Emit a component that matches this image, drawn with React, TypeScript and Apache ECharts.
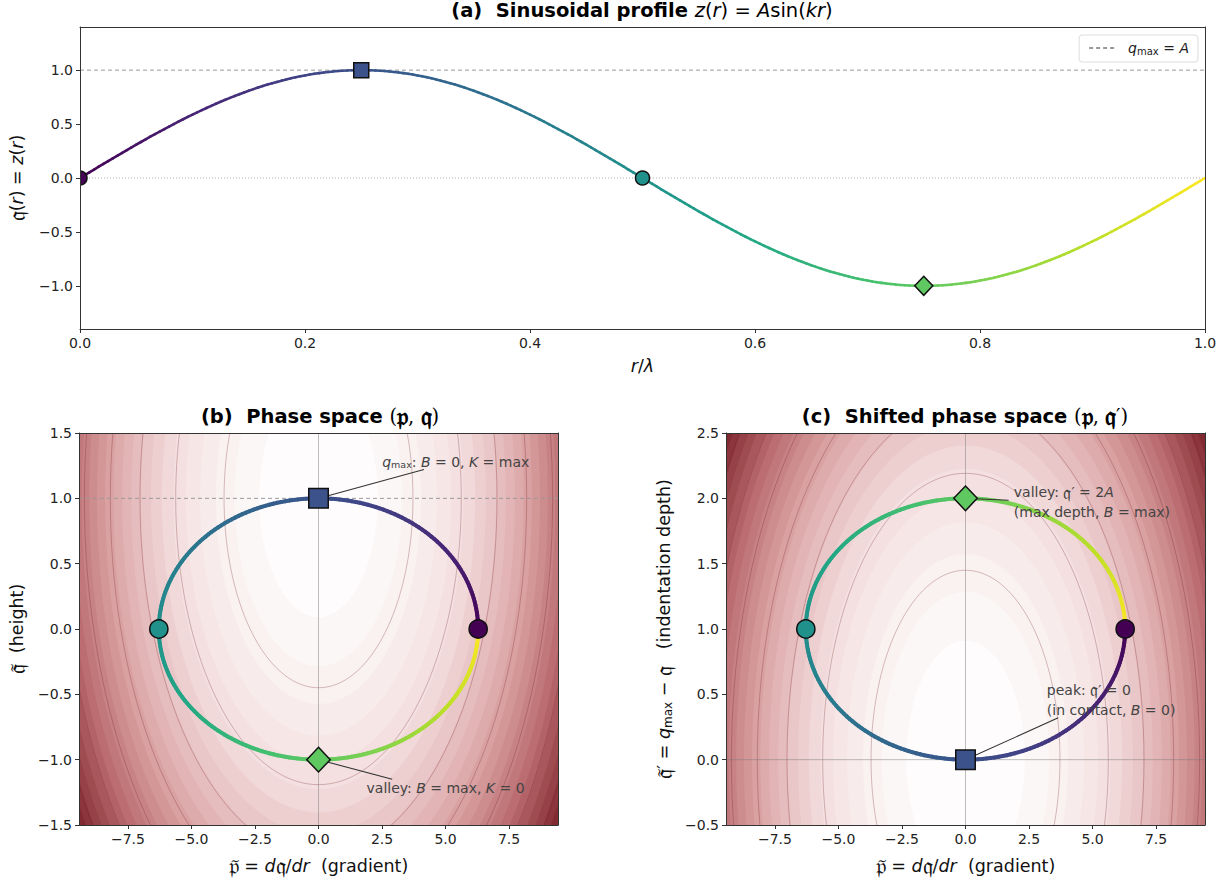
import React, { useEffect, useRef } from "react";
import * as echarts from "echarts";

// ---------- data / parameters ----------
const AMPLITUDE = 1; // A
const WAVELENGTH = 1; // lambda
const CURVE_SAMPLES = 240;
const markerR = [0, 0.25, 0.5, 0.75];
const markerSymbols = ["circle", "rect", "circle", "diamond"];
const rTicks = [0, 0.2, 0.4, 0.6, 0.8, 1.0];
const qTicksA = [-1, -0.5, 0, 0.5, 1];
const pTicks = [-7.5, -5, -2.5, 0, 2.5, 5, 7.5];
const qTicksB = [-1.5, -1, -0.5, 0, 0.5, 1, 1.5];
const qTicksC = [-0.5, 0, 0.5, 1, 1.5, 2, 2.5];
// background field f(p, q') = (p/(A k))^2 + (q'/FIELD_S)^2
const FIELD_S = 2.45;
const FILL_LEVEL_COUNT = 24;
const FILL_MAX = 3.3;
const contourLevels = [0.35, 0.8, 1.25, 1.7, 2.15, 2.6, 3.05];

const viridisStops = ["#440154", "#482475", "#414487", "#355f8d", "#2a788e", "#21918c", "#22a884", "#44bf70", "#7ad151", "#bddf26", "#fde725"];
const fieldStops: [number, number[]][] = [
  [0, [255, 255, 255]],
  [0.25, [243, 221, 221]],
  [0.5, [220, 166, 167]],
  [0.75, [184, 104, 108]],
  [1, [125, 36, 44]],
];

const K = (2 * Math.PI) / WAVELENGTH;
const P_MAX = AMPLITUDE * K;
const X_LIM = 1.5 * P_MAX;

function hexToRgb(h: string) {
  const n = parseInt(h.slice(1), 16);
  return [(n >> 16) & 255, (n >> 8) & 255, n & 255];
}
function viridis(t: number) {
  t = Math.max(0, Math.min(1, t));
  const s = t * (viridisStops.length - 1);
  const i = Math.min(Math.floor(s), viridisStops.length - 2);
  const f = s - i;
  const a = hexToRgb(viridisStops[i]);
  const b = hexToRgb(viridisStops[i + 1]);
  return `rgb(${a.map((v, j) => Math.round(v + (b[j] - v) * f)).join(",")})`;
}
function fieldColor(t: number) {
  t = Math.max(0, Math.min(1, t));
  for (let i = 0; i < fieldStops.length - 1; i++) {
    const [t0, c0] = fieldStops[i];
    const [t1, c1] = fieldStops[i + 1];
    if (t <= t1) {
      const f = (t - t0) / (t1 - t0);
      return `rgb(${c0.map((v, j) => Math.round(v + (c1[j] - v) * f)).join(",")})`;
    }
  }
  return "rgb(125,36,44)";
}

const rs = Array.from({ length: CURVE_SAMPLES + 1 }, (_, i) => (i / CURVE_SAMPLES) * WAVELENGTH);
const zOf = (r: number) => AMPLITUDE * Math.sin(K * r);
const pOf = (r: number) => AMPLITUDE * K * Math.cos(K * r);

function segments(fx: (r: number) => number, fy: (r: number) => number) {
  const out: number[][] = [];
  for (let i = 0; i < rs.length - 1; i++) {
    const a = rs[i], b = rs[i + 1];
    out.push([fx(a), fy(a), fx(b), fy(b), (a + b) / 2 / WAVELENGTH]);
  }
  return out;
}
const segA = segments((r) => r, zOf);
const segB = segments(pOf, zOf);
const segC = segments(pOf, (r) => AMPLITUDE - zOf(r));

const fmt = (v: number) => v.toFixed(1).replace("-", "\u2212");

const FONT = "DejaVu Sans";
const FRAK = "DejaVu Serif";
const TS = 19.5; // title size
const rich = {
  b: { fontWeight: "bold", fontSize: TS, fontFamily: FONT, color: "#111" },
  ti: { fontStyle: "italic", fontFamily: FONT, fontSize: TS, color: "#111" },
  tn: { fontFamily: FONT, fontSize: TS, color: "#111" },
  tp: { fontFamily: FRAK, fontSize: TS, color: "#111" },
  tf: { fontFamily: FRAK, fontSize: TS * 1.3, color: "#111", fontWeight: "bold" },
};

function curveSeries(seg: number[][], xi: number, width: number) {
  return {
    type: "custom",
    xAxisIndex: xi,
    yAxisIndex: xi,
    z: 4,
    clip: true,
    data: seg,
    encode: { x: [0, 2], y: [1, 3] },
    renderItem: (params: any, api: any) => {
      const p1 = api.coord([api.value(0), api.value(1)]);
      const p2 = api.coord([api.value(2), api.value(3)]);
      return {
        type: "line",
        shape: { x1: p1[0], y1: p1[1], x2: p2[0], y2: p2[1] },
        style: { stroke: viridis(api.value(4)), lineWidth: width, lineCap: "round" },
      };
    },
  };
}

// markers drawn as a custom series so that they are clipped at the axes edge
function markerSeries(fx: (r: number) => number, fy: (r: number) => number, xi: number, scale: number) {
  return {
    type: "custom",
    xAxisIndex: xi,
    yAxisIndex: xi,
    z: 6,
    clip: true,
    data: markerR.map((r, i) => [fx(r), fy(r), r, i]),
    encode: { x: 0, y: 1 },
    renderItem: (params: any, api: any) => {
      const c = api.coord([api.value(0), api.value(1)]);
      const i = api.value(3);
      const sym = markerSymbols[i];
      const style = { fill: viridis(api.value(2) / WAVELENGTH), stroke: "#111", lineWidth: 1.5 };
      if (sym === "circle") {
        return { type: "circle", shape: { cx: c[0], cy: c[1], r: 7 * scale }, style };
      }
      if (sym === "rect") {
        const h = 7.5 * scale;
        return { type: "rect", shape: { x: c[0] - h, y: c[1] - h, width: 2 * h, height: 2 * h }, style };
      }
      const d = 9.5 * scale;
      return { type: "polygon", shape: { points: [[c[0], c[1] - d], [c[0] + d * 0.95, c[1]], [c[0], c[1] + d], [c[0] - d * 0.95, c[1]]] }, style };
    },
  };
}

// background filled contour bands: ellipses f < c, nested
function fieldSeries(xi: number, shifted: boolean) {
  const levels = Array.from({ length: FILL_LEVEL_COUNT + 1 }, (_, i) => (i / FILL_LEVEL_COUNT) * FILL_MAX);
  const items: number[][] = [[0, 0, -1]];
  for (let k = FILL_LEVEL_COUNT - 1; k >= 0; k--) items.push([0, 0, k]);
  return {
    type: "custom",
    xAxisIndex: xi,
    yAxisIndex: xi,
    z: 1,
    clip: true,
    silent: true,
    data: items,
    encode: { x: 0, y: 1 },
    renderItem: (params: any, api: any) => {
      const k = api.value(2);
      const cs = params.coordSys;
      if (k < 0) {
        return { type: "rect", shape: { x: cs.x, y: cs.y, width: cs.width, height: cs.height }, style: { fill: fieldColor(1) } };
      }
      const c = levels[k + 1];
      const pts: number[][] = [];
      const a = P_MAX * Math.sqrt(c);
      const b = FIELD_S * Math.sqrt(c);
      for (let j = 0; j <= 160; j++) {
        const th = (j / 160) * Math.PI * 2;
        const p = a * Math.cos(th);
        const qp = b * Math.sin(th);
        pts.push(api.coord([p, shifted ? qp : AMPLITUDE - qp]));
      }
      return { type: "polygon", shape: { points: pts }, style: { fill: fieldColor((k + 0.5) / FILL_LEVEL_COUNT) } };
    },
  };
}

function contourSeries(xi: number, shifted: boolean) {
  return {
    type: "custom",
    xAxisIndex: xi,
    yAxisIndex: xi,
    z: 2,
    clip: true,
    silent: true,
    data: contourLevels.map((c) => [0, 0, c]),
    encode: { x: 0, y: 1 },
    renderItem: (params: any, api: any) => {
      const c = api.value(2);
      const pts: number[][] = [];
      const a = P_MAX * Math.sqrt(c);
      const b = FIELD_S * Math.sqrt(c);
      for (let j = 0; j <= 160; j++) {
        const th = (j / 160) * Math.PI * 2;
        pts.push(api.coord([a * Math.cos(th), shifted ? b * Math.sin(th) : AMPLITUDE - b * Math.sin(th)]));
      }
      return { type: "polyline", shape: { points: pts }, style: { stroke: "rgba(110,30,35,0.4)", lineWidth: 0.7, fill: null } };
    },
  };
}

function refLine(xi: number, data: number[][], type: any, color: string, width: number, name?: string) {
  return {
    type: "line",
    name,
    xAxisIndex: xi,
    yAxisIndex: xi,
    z: 3,
    silent: true,
    symbol: "none",
    showSymbol: false,
    data,
    lineStyle: { type, color, width },
    itemStyle: { color },
  };
}

const AF = 14; // annotation font size
type Ann = { xi: number; at: number[]; end: number[]; text: string; pos: number[]; align: string };
const annotations: Ann[] = [
  { xi: 1, at: [0, 1], end: [4.15, 1.22], text: "{i|q}{s|max}: {i|B} = 0, {i|K} = max", pos: [5.4, 1.28], align: "center" },
  { xi: 1, at: [0, -1], end: [2.9, -1.15], text: "valley: {i|B} = max, {i|K} = 0", pos: [5.0, -1.22], align: "center" },
  { xi: 2, at: [0, 2], end: [1.7, 1.985], text: "valley: {f|\u{1D52E}}\u2032 = 2{i|A}\n(max depth, {i|B} = max)", pos: [1.9, 1.97], align: "left" },
  { xi: 2, at: [0, 0], end: [3.65, 0.32], text: "peak: {f|\u{1D52E}}\u2032 = 0\n(in contact, {i|B} = 0)", pos: [3.2, 0.46], align: "left" },
];

function annotationSeries(xi: number) {
  const list = annotations.filter((a) => a.xi === xi);
  return {
    type: "custom",
    xAxisIndex: xi,
    yAxisIndex: xi,
    z: 5,
    silent: true,
    data: list.map((a) => [a.at[0], a.at[1]]),
    encode: { x: 0, y: 1 },
    renderItem: (params: any, api: any) => {
      const a = list[params.dataIndex];
      const p0 = api.coord(a.at);
      const p1 = api.coord(a.end);
      const t = api.coord(a.pos);
      const dx = p1[0] - p0[0], dy = p1[1] - p0[1];
      const L = Math.hypot(dx, dy) || 1;
      const sh = 9;
      return {
        type: "group",
        children: [
          { type: "line", shape: { x1: p0[0] + (dx / L) * sh, y1: p0[1] + (dy / L) * sh, x2: p1[0], y2: p1[1] }, style: { stroke: "#333", lineWidth: 1.1 } },
          {
            type: "text",
            x: t[0],
            y: t[1],
            style: { text: a.text, align: a.align, verticalAlign: "middle", fill: "#444", fontSize: AF, fontFamily: FONT, lineHeight: 20, rich: {
              i: { fontStyle: "italic", fontSize: AF, fontFamily: FONT, color: "#444" },
              f: { fontFamily: FRAK, fontSize: AF * 1.3, color: "#444" },
              s: { fontSize: 9.5, fontFamily: FONT, color: "#444", padding: [6, 0, 0, 0] },
            } },
          },
        ],
      };
    },
  };
}

const NF = 17.5; // axis name size
function valAxis(gi: number, min: number, max: number, ticks: number[], extra: any = {}) {
  return {
    type: "value",
    gridIndex: gi,
    min,
    max,
    z: 10,
    splitLine: { show: false },
    axisLine: { show: true, onZero: false, lineStyle: { color: "#333", width: 1 } },
    axisTick: { show: true, length: 4, customValues: ticks, lineStyle: { color: "#333" } },
    axisLabel: { customValues: ticks, formatter: fmt, fontSize: 14, color: "#222", fontFamily: FONT, margin: 7 },
    nameTextStyle: { fontSize: NF, fontFamily: FONT, color: "#111", rich: {
      i: { fontStyle: "italic", fontSize: NF, fontFamily: FONT, color: "#111" },
      f: { fontFamily: FRAK, fontSize: NF * 1.3, color: "#111" },
      n: { fontSize: NF, fontFamily: FONT, color: "#111" },
      s: { fontSize: 12, fontFamily: FONT, color: "#111", padding: [8, 0, 0, 0] },
    } },
    ...extra,
  };
}
function frameAxis(kind: "x" | "y", gi: number, min: number, max: number) {
  return {
    type: "value",
    gridIndex: gi,
    min,
    max,
    z: 10,
    position: kind === "x" ? "top" : "right",
    splitLine: { show: false },
    axisLine: { show: true, onZero: false, lineStyle: { color: "#333", width: 1 } },
    axisTick: { show: false },
    axisLabel: { show: false },
  };
}

export default function App() {
  const ref = useRef<HTMLDivElement>(null);
  useEffect(() => {
    document.body.style.margin = "0";
    const chart = echarts.init(ref.current!, null, { renderer: "svg" });
    const option: any = {
      animation: false,
      backgroundColor: "#fff",
      grid: [
        { left: 80, top: 27, width: 1125, height: 302, outerBoundsMode: "none", containLabel: false },
        { left: 79, top: 433, width: 479, height: 392, outerBoundsMode: "none", containLabel: false },
        { left: 726, top: 433, width: 479, height: 392, outerBoundsMode: "none", containLabel: false },
      ],
      xAxis: [
        valAxis(0, 0, 1, rTicks, { name: "{i|r}/{i|\u03BB}", nameLocation: "middle", nameGap: 28 }),
        valAxis(1, -X_LIM, X_LIM, pTicks, { name: "{f|\u{1D52D}\u0303} = {i|d}{f|\u{1D52E}}/{i|dr}  (gradient)", nameLocation: "middle", nameGap: 29 }),
        valAxis(2, -X_LIM, X_LIM, pTicks, { name: "{f|\u{1D52D}\u0303} = {i|d}{f|\u{1D52E}}/{i|dr}  (gradient)", nameLocation: "middle", nameGap: 29 }),
        frameAxis("x", 0, 0, 1),
        frameAxis("x", 1, -X_LIM, X_LIM),
        frameAxis("x", 2, -X_LIM, X_LIM),
      ],
      yAxis: [
        valAxis(0, -1.4, 1.4, qTicksA, { name: "{f|\u{1D52E}}({i|r}) = {i|z}({i|r})", nameLocation: "middle", nameGap: 52, nameRotate: 90 }),
        valAxis(1, -1.5, 1.5, qTicksB, { name: "{f|\u{1D52E}\u0303}  (height)", nameLocation: "middle", nameGap: 51, nameRotate: 90 }),
        valAxis(2, -0.5, 2.5, qTicksC, { name: "{f|\u{1D52E}\u0303}\u2032 = {i|q}{s|max} \u2212 {f|\u{1D52E}}   (indentation depth)", nameLocation: "middle", nameGap: 51, nameRotate: 90 }),
        frameAxis("y", 0, -1.4, 1.4),
        frameAxis("y", 1, -1.5, 1.5),
        frameAxis("y", 2, -0.5, 2.5),
      ],
      legend: {
        right: 33,
        top: 35,
        data: ["qmax"],
        itemWidth: 28,
        itemHeight: 10,
        itemGap: 8,
        padding: [6, 9, 6, 9],
        borderColor: "#ddd",
        borderWidth: 1,
        borderRadius: 3,
        backgroundColor: "#fff",
        itemStyle: { opacity: 0 },
        formatter: () => "{i|q}{s|max} = {i|A}",
        textStyle: { fontSize: 14, fontFamily: FONT, color: "#222", padding: [0, 0, 0, 6], rich: {
          i: { fontStyle: "italic", fontSize: 14, fontFamily: FONT, color: "#222" },
          s: { fontSize: 10, fontFamily: FONT, color: "#222", padding: [6, 0, 0, 0] },
        } },
      },
      graphic: [
        { type: "text", x: 642, y: 10, style: { text: "{b|(a)  Sinusoidal profile }{ti|z}{tn|(}{ti|r}{tn|) = }{ti|A}{tn|sin(}{ti|kr}{tn|)}", rich, align: "center", verticalAlign: "middle" } },
        { type: "text", x: 320, y: 416, style: { text: "{b|(b)  Phase space }{tp|(}{tf|\u{1D52D}}{tp|, }{tf|\u{1D52E}}{tp|)}", rich, align: "center", verticalAlign: "middle" } },
        { type: "text", x: 965, y: 416, style: { text: "{b|(c)  Shifted phase space }{tp|(}{tf|\u{1D52D}}{tp|, }{tf|\u{1D52E}}{tp|\u2032)}", rich, align: "center", verticalAlign: "middle" } },
      ],
      series: [
        // panel a
        refLine(0, [[0, AMPLITUDE], [1, AMPLITUDE]], [4, 3], "#999", 1, "qmax"),
        refLine(0, [[0, 0], [1, 0]], [1, 2], "#999", 0.8),
        curveSeries(segA, 0, 2.6),
        markerSeries((r) => r, zOf, 0, 1),
        // panel b
        fieldSeries(1, false),
        contourSeries(1, false),
        refLine(1, [[-X_LIM, AMPLITUDE], [X_LIM, AMPLITUDE]], [4, 3], "#999", 1),
        refLine(1, [[0, -1.5], [0, 1.5]], "solid", "rgba(120,120,120,0.6)", 0.8),
        curveSeries(segB, 1, 4),
        annotationSeries(1),
        markerSeries(pOf, zOf, 1, 1.3),
        // panel c
        fieldSeries(2, true),
        contourSeries(2, true),
        refLine(2, [[0, -0.5], [0, 2.5]], "solid", "rgba(120,120,120,0.6)", 0.8),
        refLine(2, [[-X_LIM, 0], [X_LIM, 0]], "solid", "rgba(120,120,120,0.6)", 0.8),
        curveSeries(segC, 2, 4),
        annotationSeries(2),
        markerSeries(pOf, (r) => AMPLITUDE - zOf(r), 2, 1.3),
      ],
    };
    chart.setOption(option);
    return () => chart.dispose();
  }, []);
  return <div ref={ref} style={{ width: 1231, height: 884 }} />;
}
